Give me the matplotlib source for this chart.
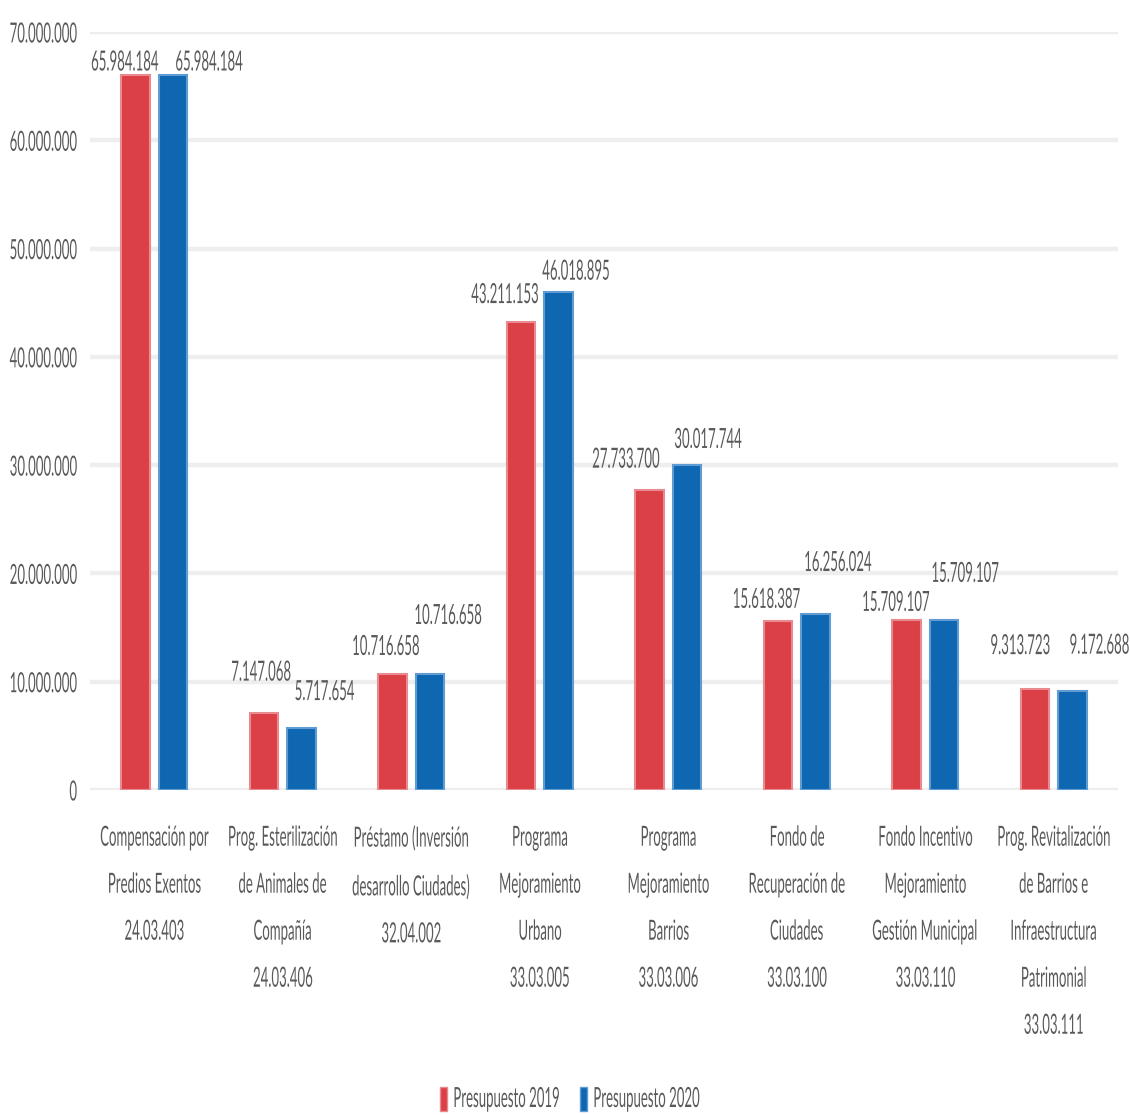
import matplotlib
matplotlib.use("Agg")
import matplotlib.pyplot as plt
import numpy as np
from matplotlib import patheffects
from matplotlib.patches import Rectangle
from matplotlib.transforms import Affine2D
from matplotlib.ticker import FuncFormatter

categories = [
    "Compensación por\nPredios Exentos\n24.03.403",
    "Prog. Esterilización\nde Animales de\nCompañía\n24.03.406",
    "Préstamo (Inversión\ndesarrollo Ciudades)\n32.04.002",
    "Programa\nMejoramiento\nUrbano\n33.03.005",
    "Programa\nMejoramiento\nBarrios\n33.03.006",
    "Fondo de\nRecuperación de\nCiudades\n33.03.100",
    "Fondo Incentivo\nMejoramiento\nGestión Municipal\n33.03.110",
    "Prog. Revitalización\nde Barrios e\nInfraestructura\nPatrimonial\n33.03.111",
]
presupuesto_2019 = [65984184, 7147068, 10716658, 43211153, 27733700, 15618387, 15709107, 9313723]
presupuesto_2020 = [65984184, 5717654, 10716658, 46018895, 30017744, 16256024, 15709107, 9172688]
series_names = ["Presupuesto 2019", "Presupuesto 2020"]

# label offsets (pixels, from bar top centre) as placed in the original
offsets_2019 = [(-11, 13), (-3, 40), (-7, 27), (-16, 27), (-24, 30), (-12, 21), (-11, 17), (-15, 43)]
offsets_2020 = [(36, 13), (23, 36), (18, 58), (18, 20), (21, 25), (22, 51), (21, 46), (27, 45)]

RED, RED_EDGE = "#DA4046", "#E98A8E"
BLUE, BLUE_EDGE = "#0F67B2", "#5E9CD3"
TXT = "#595959"
FS = 20
SQ = 0.475


class Squeeze(patheffects.AbstractPathEffect):
    """narrow the glyphs horizontally (the source picture is condensed)"""
    def __init__(self, sx=SQ, anchor="center"):
        super().__init__()
        self.sx = sx
        self.anchor = anchor

    def draw_path(self, renderer, gc, tpath, affine, rgbFace=None):
        ext = tpath.get_extents()
        if self.anchor == "left":
            x0 = ext.x0
        elif self.anchor == "right":
            x0 = ext.x1
        else:
            x0 = (ext.x0 + ext.x1) / 2
        t = Affine2D().translate(-x0, 0).scale(self.sx, 1).translate(x0, 0) + affine
        renderer.draw_path(gc, tpath, t, rgbFace)


plt.rcParams["font.family"] = ["Lato", "DejaVu Sans"]

fig = plt.figure(figsize=(11.3, 11.15), dpi=100)
ax = fig.add_axes([90 / 1130, 1 - 790 / 1115, 1028 / 1130, 758 / 1115])

x = np.arange(len(categories))
w = 0.22
off = 0.145
b1 = ax.bar(x - off, presupuesto_2019, w, color=RED, edgecolor=RED_EDGE, linewidth=1.5, zorder=3)
b2 = ax.bar(x + off, presupuesto_2020, w, color=BLUE, edgecolor=BLUE_EDGE, linewidth=1.5, zorder=3)

fmt = lambda v: "{:,.0f}".format(v).replace(",", ".")

for bars, vals, offs in [(b1, presupuesto_2019, offsets_2019), (b2, presupuesto_2020, offsets_2020)]:
    for b, v, (dx, dy) in zip(bars, vals, offs):
        ax.annotate(fmt(v), (b.get_x() + b.get_width() / 2, v),
                    xytext=(dx * 0.72, dy * 0.72), textcoords="offset points",
                    ha="center", va="center", fontsize=FS, color=TXT,
                    path_effects=[Squeeze()], zorder=5)

ax.set_xlim(-0.5, 7.5)
ax.set_ylim(0, 70000000)
ax.set_yticks(np.arange(0, 70000001, 10000000))
ax.yaxis.set_major_formatter(FuncFormatter(lambda v, p: fmt(v)))
ax.set_xticks(x)
ax.set_xticklabels(categories, linespacing=2.0)
ax.grid(axis="y", color="#EEEEEE", linewidth=3.2, zorder=0)
ax.set_axisbelow(True)
for s in ax.spines.values():
    s.set_visible(False)
ax.tick_params(axis="y", length=0, pad=9, labelsize=FS, labelcolor=TXT)
ax.tick_params(axis="x", length=0, pad=25, labelsize=FS, labelcolor=TXT)
for lab in ax.get_yticklabels():
    lab.set_path_effects([Squeeze(anchor="right")])
for lab in ax.get_xticklabels():
    lab.set_path_effects([Squeeze()])
    lab.set_va("top")

# legend drawn by hand so the condensed text keeps tight spacing
for i, (name, col, edge) in enumerate(zip(series_names, [RED, BLUE], [RED_EDGE, BLUE_EDGE])):
    x0 = 440 + i * 140
    fig.add_artist(Rectangle((x0 / 1130, 1 - 1111 / 1115), 7 / 1130, 24 / 1115,
                             transform=fig.transFigure, facecolor=col, edgecolor=edge, linewidth=1))
    fig.text((x0 + 12) / 1130, 1 - 1099 / 1115, name, ha="left", va="center",
             fontsize=FS, color=TXT, path_effects=[Squeeze(anchor="left")])

fig.savefig("out.png", dpi=100, facecolor="white")
